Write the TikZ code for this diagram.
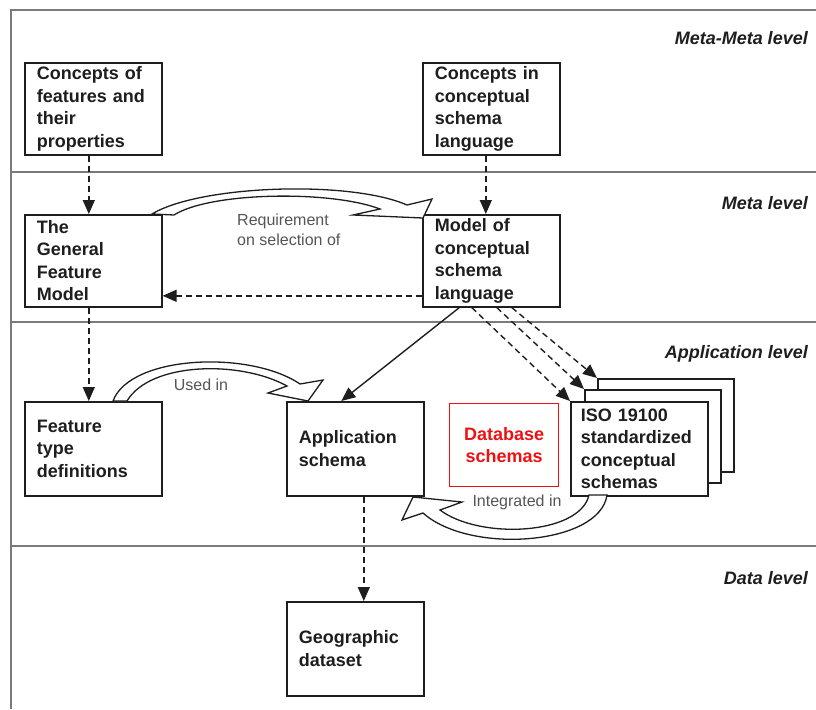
\documentclass[tikz,border=0pt]{standalone}
\usepackage{fontspec}
\setmainfont{Liberation Sans}
\usetikzlibrary{arrows.meta,calc}
\definecolor{ink}{HTML}{1E1E1E}
\definecolor{frame}{HTML}{7A7A7A}
\definecolor{lbl}{HTML}{555555}
\definecolor{dbred}{HTML}{EE1111}
\begin{document}
\begin{tikzpicture}[x=1pt,y=-1pt,
  box/.style={draw=ink, line width=1.6pt, fill=white, anchor=north west,
    minimum width=137pt, minimum height=92pt, inner xsep=12pt, inner ysep=0pt,
    text width=113pt, align=left, text=ink,
    font=\fontsize{18}{22.5}\selectfont\bfseries},
  levellbl/.style={anchor=east, inner sep=0pt, text=ink,
    font=\fontsize{18}{20}\selectfont\bfseries\itshape},
  arrlbl/.style={inner sep=0pt, text=lbl, font=\fontsize{16}{20}\selectfont},
  dashedarrow/.style={draw=ink, line width=1.4pt, dash pattern=on 6pt off 4pt,
    -{Triangle[length=14pt,width=12pt]}},
  solidarrow/.style={draw=ink, line width=1.4pt, -{Triangle[length=14pt,width=12pt]}},
  blockarrow/.style={draw=ink, line width=1.3pt, fill=white, line join=miter},
  levelline/.style={draw=frame, line width=1.3pt}]

\useasboundingbox (0,0) rectangle (816,709);

% level frame
\draw[levelline] (11,709) -- (11,10) -- (816,10);
\draw[levelline] (11,172) -- (816,172);
\draw[levelline] (11,322) -- (816,322);
\draw[levelline] (11,546) -- (816,546);

% level labels
\node[levellbl] (lmm) at (808,38) {Meta-Meta level};
\node[levellbl] (lm)  at (808,203) {Meta level};
\node[levellbl] (la)  at (808,354) {Application level};
\node[levellbl] (ld)  at (808,578) {Data level};

% boxes
\node[box] (cf)  at (24,62)  {Concepts of\\features and\\their\\properties};
\node[box, minimum width=135pt] (ci) at (422,62) {Concepts in\\conceptual\\schema\\language};
\node[box] (gfm) at (24,214) {The\\General\\Feature\\Model};
\node[box, minimum width=135pt] (mcs) at (422,214) {Model of\\conceptual\\schema\\language};
\node[box, minimum height=94pt] (ftd) at (24,401) {Feature\\type\\definitions};
\node[box, minimum width=135pt, minimum height=94pt] (app) at (286,401) {Application\\schema};
\node[box, minimum width=135pt, minimum height=94pt] (geo) at (286,601) {Geographic\\dataset};

\node[box, draw=dbred, line width=1.1pt, text=dbred, minimum width=109pt, minimum height=83pt,
      text width=95pt, inner xsep=7pt, align=center] (db) at (449,403) {Database\\schemas};

\node[box, minimum width=136pt, minimum height=93pt, text width=112pt] (iso3) at (597,378) {};
\node[box, minimum width=136pt, minimum height=93pt, text width=112pt] (iso2) at (584,389) {};
\node[box, minimum width=137pt, minimum height=94pt, inner xsep=10pt, text width=117pt] (iso1) at (570,401)
   {ISO 19100\\standardized\\conceptual\\schemas};

% dashed / solid connectors
\draw[dashedarrow] ([xshift=-4.5pt]cf.south) -- ([xshift=-4.5pt]gfm.north);
\draw[dashedarrow] ([xshift=-5.5pt]ci.south) -- ([xshift=-5.5pt]mcs.north);
\draw[dashedarrow] ([yshift=-35pt]mcs.west) -- ([yshift=-35pt]gfm.east);
\draw[dashedarrow] ([xshift=-4.5pt]gfm.south) -- ([xshift=-4.5pt]ftd.north);
\draw[dashedarrow] ([xshift=8.5pt]app.south) -- ([xshift=8.5pt]geo.north);
\draw[solidarrow]  ([xshift=-32pt]mcs.south) -- ([xshift=-14pt]app.north);
\draw[dashedarrow] ([xshift=-19.5pt]mcs.south) -- (iso1.north west);
\draw[dashedarrow] ([xshift=5.5pt]mcs.south) -- (iso2.north west);
\draw[dashedarrow] ([xshift=20.5pt]mcs.south) -- (iso3.north west);

% block arrows
\draw[blockarrow] (152,214) .. controls (200,185) and (350,180) .. (407,205)
  -- (432,199) -- (423,218) -- (353,215) -- (380,209)
  .. controls (330,190) and (210,192) .. (174,215) -- cycle;
\node[arrlbl, align=left, anchor=west] (lreq) at (237,230) {Requirement\\on selection of};

\draw[blockarrow] (113,401) .. controls (130,355) and (250,350) .. (300,384)
  -- (323,380) -- (308,401) -- (268,393) -- (287,386)
  .. controls (240,360) and (150,362) .. (127,401) -- cycle;
\node[arrlbl] (luse) at (201,385) {Used in};

\draw[blockarrow] (607,495) .. controls (600,545) and (470,555) .. (423,513)
  -- (402,520) -- (413,497) -- (462,502) -- (440,510)
  .. controls (480,540) and (580,535) .. (589,495) -- cycle;
\node[arrlbl] (lint) at (517,502) {Integrated in};

\end{tikzpicture}
\end{document}
